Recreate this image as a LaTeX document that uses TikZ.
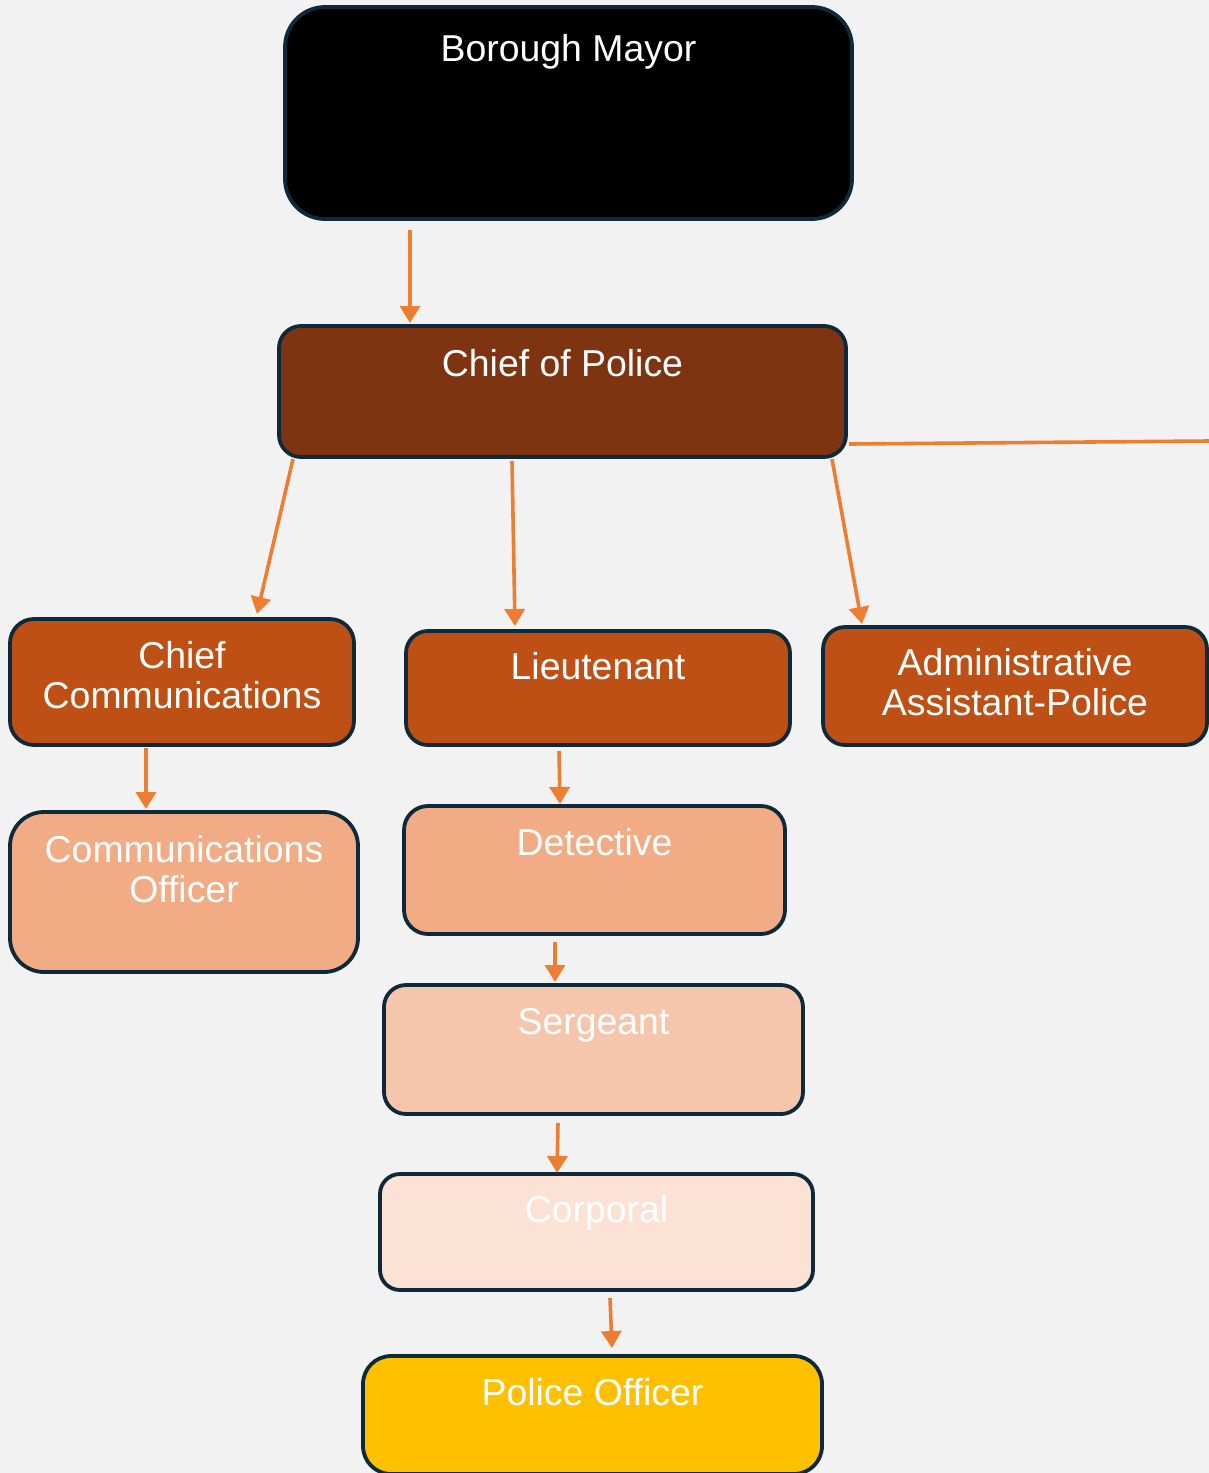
\documentclass[tikz,border=0pt]{standalone}
\usepackage{fontspec}
\setmainfont{Liberation Sans}
\usetikzlibrary{arrows.meta,calc}
\definecolor{bg}{HTML}{F2F2F2}
\definecolor{edge}{HTML}{0E2A3A}
\definecolor{arrowc}{HTML}{ED7D31}
\definecolor{cpolice}{HTML}{7F3411}
\definecolor{clevel}{HTML}{BF5015}
\definecolor{cdet}{HTML}{F1AB85}
\definecolor{cserg}{HTML}{F5C6AB}
\definecolor{ccorp}{HTML}{FBE2D5}
\definecolor{cofficer}{HTML}{FFC000}
\tikzset{
  box/.style={draw=edge, line width=1.9pt, inner sep=0pt, outer sep=0pt},
  lbl/.style={text=white, font=\fontsize{18.7}{20}\selectfont, align=center, anchor=base, inner sep=0pt},
  arr/.style={draw=arrowc, line width=1.8pt, -{Triangle[width=10pt,length=8.5pt]}},
  plain/.style={draw=arrowc, line width=1.8pt},
}
\begin{document}
\begin{tikzpicture}[x=0.5pt,y=-0.5pt]
\fill[bg] (0,0) rectangle (1209,1473);
\useasboundingbox (0,0) rectangle (1209,1473);
% boxes
\node[box, fill=black, rounded corners=20pt, minimum width=283.5pt, minimum height=106pt] (mayor) at (568.5,113) {};
\node[box, fill=cpolice, rounded corners=11pt, minimum width=283.5pt, minimum height=65.5pt] (chief) at (562.5,391.5) {};
\node[box, fill=clevel, rounded corners=12pt, minimum width=172pt, minimum height=63pt] (ccomm) at (182,682) {};
\node[box, fill=clevel, rounded corners=11pt, minimum width=192pt, minimum height=57pt] (lieut) at (598,688) {};
\node[box, fill=clevel, rounded corners=11pt, minimum width=192pt, minimum height=59pt] (admin) at (1015,686) {};
\node[box, fill=cdet, rounded corners=17pt, minimum width=174pt, minimum height=80pt] (coff) at (184,892) {};
\node[box, fill=cdet, rounded corners=12pt, minimum width=190.5pt, minimum height=64pt] (det) at (594.5,870) {};
\node[box, fill=cserg, rounded corners=11pt, minimum width=209.5pt, minimum height=64.5pt] (serg) at (593.5,1049.5) {};
\node[box, fill=ccorp, rounded corners=10pt, minimum width=216.5pt, minimum height=58pt] (corp) at (596.5,1232) {};
\node[box, fill=cofficer, rounded corners=14pt, minimum width=229.5pt, minimum height=59pt] (police) at (592.5,1415) {};
% labels
\node[lbl] (tmayor) at ($(mayor.north)+(0,54)$) {Borough Mayor};
\node[lbl] (tchief) at ($(chief.north)+(0,50)$) {Chief of Police};
\node[lbl] (tccomm) at ($(ccomm.north)+(0,89)$) {Chief\\Communications};
\node[lbl] (tlieut) at ($(lieut.north)+(0,48)$) {Lieutenant};
\node[lbl] (tadmin) at ($(admin.north)+(0,88)$) {Administrative\\Assistant-Police};
\node[lbl] (tcoff) at ($(coff.north)+(0,90)$) {Communications\\Officer};
\node[lbl] (tdet) at ($(det.north)+(0,49)$) {Detective};
\node[lbl] (tserg) at ($(serg.north)+(0,49)$) {Sergeant};
\node[lbl] (tcorp) at ($(corp.north)+(0,48)$) {Corporal};
\node[lbl] (tpolice) at ($(police.north)+(0,49)$) {Police Officer};
% connectors
\coordinate (rightend) at (1209,441);
\draw[arr] ($(mayor.south)+(-158.5,11)$) -- ($(chief.north)+(-152.5,-3)$);
\draw[arr] ($(chief.south)+(-269.5,2)$) -- ($(ccomm.north)+(75,-5)$);
\draw[arr] ($(chief.south)+(-50.5,4)$) -- ($(lieut.north)+(-83,-5)$);
\draw[arr] ($(chief.south)+(269.5,2)$) -- ($(admin.north)+(-153,-3)$);
\draw[plain] ($(chief.east)+(3,52.5)$) -- (rightend);
\draw[arr] ($(ccomm.south)+(-36,3)$) -- ($(coff.north)+(-38,-3)$);
\draw[arr] ($(lieut.south)+(-39,6)$) -- ($(det.north)+(-34.5,-2)$);
\draw[arr] ($(det.south)+(-39.5,8)$) -- ($(serg.north)+(-38.5,-3)$);
\draw[arr] ($(serg.south)+(-35.5,9)$) -- ($(corp.north)+(-39.5,-1)$);
\draw[arr] ($(corp.south)+(13.5,8)$) -- ($(police.north)+(19.5,-8)$);
\end{tikzpicture}
\end{document}
